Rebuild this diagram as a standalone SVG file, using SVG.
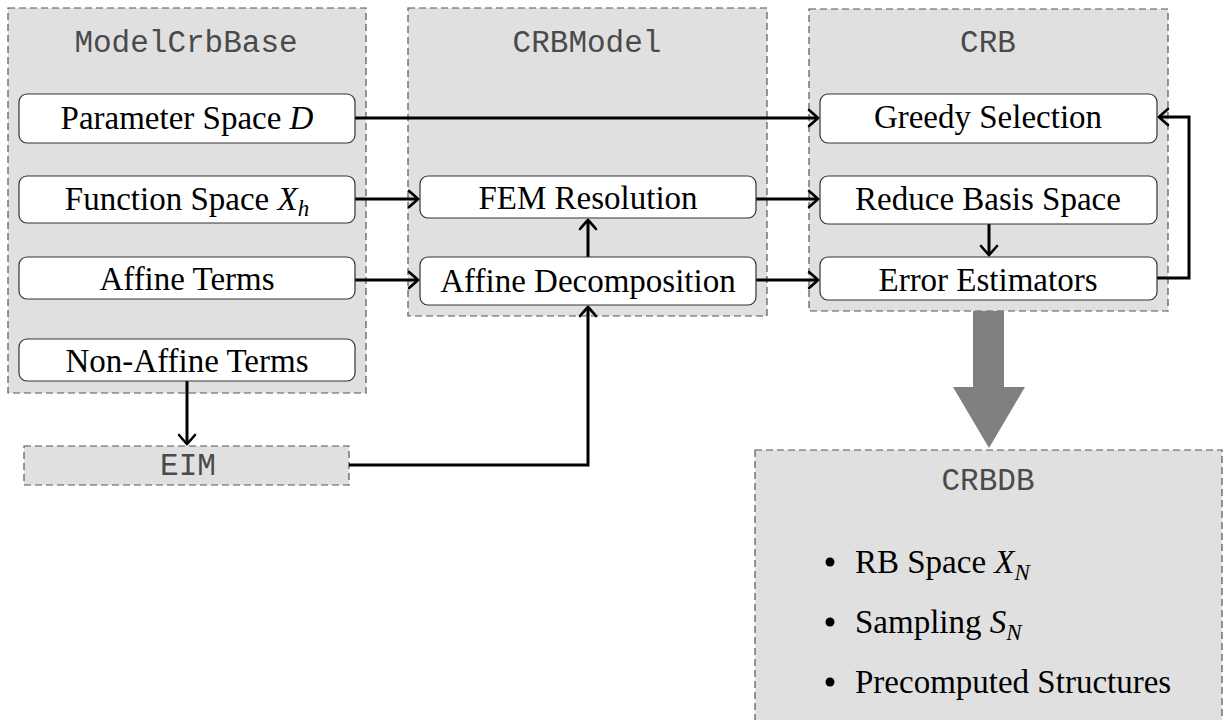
<svg xmlns="http://www.w3.org/2000/svg" width="1224" height="720" viewBox="0 0 1224 720">
<style>
.cont{fill:#e0e0e0;stroke:#555;stroke-width:1.2;stroke-dasharray:7,4}
.box{fill:#fff;stroke:#333;stroke-width:1.2}
.title{font-family:"Liberation Mono",monospace;font-size:31px;fill:#4a4a4a;text-anchor:middle}
.lbl{font-family:"Liberation Serif",serif;font-size:33px;fill:#000;text-anchor:middle}
.li{font-family:"Liberation Serif",serif;font-size:33px;fill:#000}
.it{font-style:italic}
.conn{fill:none;stroke:#000;stroke-width:3;stroke-linejoin:miter}
</style>
<defs>
<marker id="arr" viewBox="-13 -11 15 22" refX="0" refY="0" markerWidth="15" markerHeight="22" markerUnits="userSpaceOnUse" orient="auto">
<path d="M-9,-8 Q-2,-2 0,0 Q-2,2 -9,8" fill="none" stroke="#000" stroke-width="2.6" stroke-linecap="round"/>
</marker>
</defs>
<rect width="1224" height="720" fill="#fff"/>

<g id="ModelCrbBase">
<rect class="cont" x="8" y="8" width="358" height="385"/>
<text class="title" x="186" y="52">ModelCrbBase</text>
</g>
<g id="CRBModel">
<rect class="cont" x="408" y="8" width="359" height="308"/>
<text class="title" x="587" y="52">CRBModel</text>
</g>
<g id="CRB">
<rect class="cont" x="809" y="9" width="359" height="302"/>
<text class="title" x="988" y="52">CRB</text>
</g>
<g id="EIM">
<rect class="cont" x="24" y="446" width="325" height="39"/>
<text class="title" x="188" y="475">EIM</text>
</g>
<g id="CRBDB">
<rect class="cont" x="755" y="450" width="467" height="290"/>
<text class="title" x="988" y="490">CRBDB</text>
<circle cx="830" cy="562" r="4.5" fill="#000"/>
<text class="li" x="855" y="573">RB Space <tspan class="it">X</tspan><tspan class="it" font-size="23" dy="7">N</tspan></text>
<circle cx="830" cy="622" r="4.5" fill="#000"/>
<text class="li" x="855" y="633">Sampling <tspan class="it">S</tspan><tspan class="it" font-size="23" dy="7">N</tspan></text>
<circle cx="830" cy="682" r="4.5" fill="#000"/>
<text class="li" x="855" y="693">Precomputed Structures</text>
</g>

<g id="bigArrow">
<polygon points="973,311 1004,311 1004,387 1025,387 989,448 953,387 973,387" fill="#808080"/>
</g>

<g id="connectors">
<path class="conn" d="M355,118 H818" marker-end="url(#arr)"/>
<path class="conn" d="M355,199 H418" marker-end="url(#arr)"/>
<path class="conn" d="M355,280 H418" marker-end="url(#arr)"/>
<path class="conn" d="M756,199 H818" marker-end="url(#arr)"/>
<path class="conn" d="M756,280 H818" marker-end="url(#arr)"/>
<path class="conn" d="M588,257 V220" marker-end="url(#arr)"/>
<path class="conn" d="M989,224 V255" marker-end="url(#arr)"/>
<path class="conn" d="M1157,278 H1189 V117 H1159" marker-end="url(#arr)"/>
<path class="conn" d="M187,381 V444" marker-end="url(#arr)"/>
<path class="conn" d="M349,465 H588 V307" marker-end="url(#arr)"/>
</g>

<g id="ParameterSpace">
<rect class="box" x="19" y="94" width="336" height="49" rx="8"/>
<text class="lbl" x="187" y="129">Parameter Space <tspan class="it">D</tspan></text>
</g>
<g id="FunctionSpace">
<rect class="box" x="19" y="176" width="336" height="47" rx="8"/>
<text class="lbl" x="187" y="210">Function Space <tspan class="it">X</tspan><tspan class="it" font-size="23" dy="6">h</tspan></text>
</g>
<g id="AffineTerms">
<rect class="box" x="19" y="257" width="336" height="42" rx="8"/>
<text class="lbl" x="187" y="290">Affine Terms</text>
</g>
<g id="NonAffineTerms">
<rect class="box" x="19" y="339" width="336" height="42" rx="8"/>
<text class="lbl" x="187" y="372">Non-Affine Terms</text>
</g>
<g id="FEMResolution">
<rect class="box" x="420" y="176" width="336" height="42" rx="8"/>
<text class="lbl" x="588" y="209">FEM Resolution</text>
</g>
<g id="AffineDecomposition">
<rect class="box" x="420" y="257" width="336" height="48" rx="8"/>
<text class="lbl" x="588" y="292">Affine Decomposition</text>
</g>
<g id="GreedySelection">
<rect class="box" x="820" y="94" width="337" height="49" rx="8"/>
<text class="lbl" x="988" y="128">Greedy Selection</text>
</g>
<g id="ReduceBasisSpace">
<rect class="box" x="820" y="176" width="337" height="48" rx="8"/>
<text class="lbl" x="988" y="210">Reduce Basis Space</text>
</g>
<g id="ErrorEstimators">
<rect class="box" x="820" y="257" width="337" height="43" rx="8"/>
<text class="lbl" x="988" y="291">Error Estimators</text>
</g>
</svg>
